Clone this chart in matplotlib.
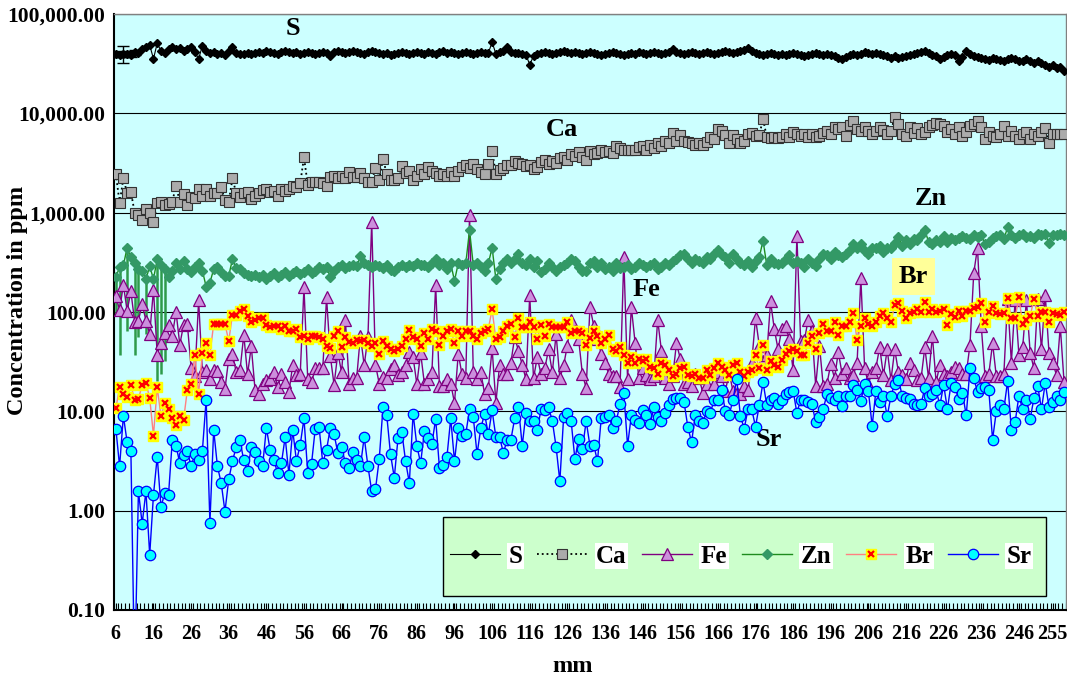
import matplotlib.pyplot as plt
import numpy as np
from matplotlib.ticker import FuncFormatter, FixedLocator
from matplotlib.patches import Rectangle

plt.rcParams['font.family'] = 'Liberation Serif'
plt.rcParams['font.weight'] = 'bold'

# concentrations (ppm) along the core, one value per mm step
S = [39800, 38700, 39800, 39800, 38700, 41300, 40600, 44400, 46500, 48600,
     35400, 50800, 42400, 40600, 44400, 46500, 44400, 45200, 42400, 44400,
     46500, 41300, 35400, 47700, 42400, 40600, 41300, 39800, 40600, 38700,
     42400, 46500, 40600, 39800, 39800, 40600, 39800, 40600, 41300, 40600,
     42400, 41300, 40600, 39800, 41300, 42400, 41300, 40600, 41300, 39800,
     40600, 41300, 40600, 39800, 40600, 41300, 40600, 37700, 41300, 42400,
     41300, 40600, 41300, 42400, 41300, 40600, 39800, 41300, 42400, 41300,
     40600, 39800, 40600, 38700, 39800, 40600, 41300, 40600, 39800, 40600,
     41300, 40600, 39800, 41300, 40600, 39800, 41300, 42400, 40600, 41300,
     40600, 39800, 40600, 41300, 40600, 39800, 40600, 41300, 40600, 40600,
     52000, 39800, 41300, 42400, 46500, 41300, 40600, 40600, 39800, 38700,
     31000, 37700, 39800, 40600, 41300, 40600, 39800, 40600, 41300, 42400,
     41300, 40600, 41300, 40600, 39800, 40600, 41300, 40600, 39800, 38700,
     39800, 40600, 41300, 40600, 39800, 38700, 39800, 40600, 39800, 41300,
     40600, 39800, 40600, 41300, 40600, 39800, 40600, 41300, 44400, 41300,
     40600, 39800, 40600, 41300, 40600, 39800, 40600, 41300, 40600, 39800,
     40600, 41300, 42400, 41300, 40600, 41300, 42400, 43400, 45200, 42400,
     40600, 39800, 38700, 39800, 40600, 39800, 38700, 39800, 38700, 39800,
     40600, 39800, 38700, 37700, 38700, 39800, 40600, 39800, 38700, 39800,
     38700, 37700, 36400, 35400, 37000, 38700, 39800, 38700, 39800, 41300,
     40600, 39800, 40600, 39800, 38700, 37700, 36400, 37700, 36400, 37000,
     37700, 38700, 39800, 40600, 41300, 42400, 40600, 38700, 37700, 35400,
     37000, 38700, 39800, 38700, 33800, 37000, 42400, 39800, 37700, 37000,
     36400, 35400, 34600, 36400, 35400, 34600, 33800, 35400, 36400, 35400,
     33800, 33800, 35400, 33800, 32300, 33800, 32300, 31000, 29500, 30500,
     28300, 29500, 27000]

Ca = [2466, 1253, 2213, 1570, 1629, 1000, 955, 835, 1096, 1000,
      797, 1253, 1290, 1200, 1230, 1290, 1865, 1290, 1527, 1200,
      1435, 1400, 1718, 1462, 1751, 1462, 1570, 1570, 1800, 1330,
      1290, 2213, 1570, 1435, 1570, 1629, 1372, 1462, 1570, 1688,
      1751, 1600, 1643, 1462, 1751, 1643, 1751, 1848, 1798, 1968,
      3605, 1914, 2060, 2060, 2024, 1968, 1848, 2296, 2360, 2215,
      2360, 2253, 2580, 2296, 2296, 2512, 2215, 2060, 2060, 2825,
      2155, 3475, 2466, 2155, 2155, 2215, 2958, 2512, 2653, 2155,
      2360, 2750, 2466, 2904, 2653, 2512, 2360, 2466, 2360, 2580,
      2360, 2653, 2904, 3007, 2825, 3090, 2750, 2580, 2466, 3090,
      4170, 2466, 2700, 2825, 3007, 3007, 3296, 3178, 3090, 2958,
      3007, 2750, 2904, 3236, 3382, 3090, 3296, 3178, 3538, 3605,
      3382, 3873, 3706, 4055, 3605, 3382, 4170, 3873, 3945, 4236,
      4055, 4170, 3945, 4645, 4436, 4315, 4315, 4315, 4236, 4560,
      4645, 4315, 4855, 4436, 5081, 4645, 5310, 4990, 6370, 5310,
      6083, 5310, 5175, 5081, 4855, 5081, 4855, 5175, 5817, 5560,
      6970, 6664, 6083, 5081, 6083, 5560, 5081, 5310, 6200, 6370,
      5975, 6083, 8730, 5817, 5665, 5817, 5665, 5817, 6200, 5817,
      6547, 6200, 5975, 6200, 5817, 6200, 5817, 5975, 6370, 6664,
      6200, 7295, 6970, 7295, 5975, 7620, 8350, 6970, 6664, 7295,
      6664, 6200, 6664, 7295, 6800, 6200, 6664, 9140, 7830, 6200,
      5975, 7295, 6370, 7160, 6200, 6547, 7295, 7620, 7980, 7830,
      7430, 6547, 6970, 6200, 7295, 5975, 6547, 7430, 7830, 8350,
      7295, 5560, 6547, 5975, 5817, 6200, 7430, 5975, 6664, 5975,
      5560, 6200, 6547, 5560, 6200, 5975, 6547, 7160, 5081, 6200,
      6200, 6200, 6200]

Fe = [144, 105, 188, 103, 161, 80, 82, 120, 82, 60,
      168, 37, 48.5, 62, 74, 58, 100, 47, 74, 76,
      27.5, 22.5, 131, 24.7, 25.8, 21, 25.8, 25.4, 19.7, 16.7,
      34, 37.7, 24.7, 25.8, 59, 23.6, 45, 16.4, 15, 19,
      20.6, 21, 25, 17.5, 23.6, 19.7, 15.7, 29, 23, 23.6,
      177, 21, 19.7, 27, 27.5, 27, 140, 36, 18.5, 38.7,
      24.7, 84, 19, 21.5, 21.5, 58, 29, 56, 813, 29.5,
      19, 22, 21.5, 26.5, 29.5, 23, 25, 29.5, 39.5, 35,
      18.8, 38.7, 19, 21, 24.7, 188, 18, 18, 21, 19,
      12.2, 38, 23.6, 21.5, 950, 24.7, 21, 24.7, 15, 17.2,
      43, 12.2, 29.5, 23.6, 23.6, 31, 56, 40.6, 29.5, 21,
      148, 21.5, 35, 23.6, 27, 42, 24.7, 60, 21.5, 29,
      46, 84, 64, 53, 23.6, 17.2, 112, 73, 53, 38,
      31, 23.6, 22.5, 22.5, 17.5, 354, 21, 112, 48.5, 21.5,
      27, 23, 21, 22.5, 84, 40.6, 21.5, 19, 22.5, 48.5,
      34, 18.8, 19.7, 18, 23.6, 21.5, 15.4, 19, 23.6, 18.8,
      24.7, 22.5, 16, 24.7, 16, 15.4, 15, 18, 16.4, 31,
      87, 46, 32, 37, 128, 67, 42, 68, 72, 53,
      25.8, 582, 51, 52, 84, 64, 18, 46, 18, 19,
      30, 21.5, 39.5, 24, 27.5, 21.5, 23, 31, 219, 27,
      19, 24.7, 27.5, 44, 23, 42, 20.6, 42, 24.7, 23,
      21, 31, 25.8, 20.6, 21.5, 44, 21.5, 58, 19.7, 29.5,
      23.6, 22.5, 24.7, 28, 27, 23.6, 23.6, 47, 247, 444,
      72, 22.5, 23.6, 48.5, 22.5, 22.5, 23.6, 135, 31, 132,
      37, 44, 132, 38.7, 27, 135, 42, 150, 38.7, 31,
      23, 72, 19.7]

Zn = [225, 282, 295, 444, 354, 309, 270, 261, 215, 288,
      215, 339, 295, 270, 225, 261, 309, 270, 324, 270,
      254, 282, 315, 261, 180, 197, 270, 282, 254, 232,
      232, 339, 277, 270, 247, 237, 232, 237, 225, 237,
      215, 232, 247, 225, 237, 254, 232, 247, 261, 240,
      254, 270, 247, 261, 282, 270, 282, 225, 261, 282,
      295, 277, 288, 300, 288, 363, 315, 295, 282, 300,
      288, 277, 295, 265, 261, 282, 295, 282, 300, 288,
      309, 295, 300, 282, 309, 339, 295, 309, 270, 309,
      206, 309, 295, 309, 667, 295, 309, 282, 261, 309,
      444, 215, 270, 309, 344, 315, 339, 387, 315, 295,
      339, 282, 324, 254, 270, 309, 282, 258, 282, 295,
      309, 339, 324, 282, 261, 258, 309, 324, 282, 315,
      270, 282, 261, 309, 277, 282, 295, 270, 282, 309,
      295, 282, 295, 309, 270, 282, 315, 295, 324, 344,
      371, 387, 339, 309, 339, 324, 309, 355, 339, 387,
      423, 377, 355, 309, 387, 339, 309, 295, 324, 282,
      324, 355, 523, 295, 344, 309, 303, 309, 339, 371,
      315, 324, 309, 282, 339, 309, 289, 339, 387, 377,
      339, 405, 377, 355, 387, 423, 485, 444, 485, 412,
      387, 444, 444, 464, 405, 444, 436, 494, 572, 464,
      531, 485, 541, 531, 593, 667, 509, 485, 531, 509,
      583, 509, 556, 531, 556, 583, 556, 541, 593, 566,
      593, 485, 509, 556, 583, 593, 541, 710, 593, 556,
      593, 608, 566, 583, 556, 608, 593, 608, 494, 593,
      593, 608, 593]

Br = [10.7, 17.5, 15, 14, 18.3, 13.1, 13.4, 18.3, 19.3, 13.6,
      5.7, 17.5, 8.9, 12, 10.5, 8.5, 7.3, 9.0, 8.2, 16.4,
      18.8, 37, 15, 38.7, 48.5, 37, 76, 75, 76, 76,
      51, 94, 94, 103, 107, 91, 80, 84, 87, 87,
      74, 70, 72, 72, 67, 72, 64, 64, 67, 56,
      58, 53, 58, 57, 56, 53, 46, 43, 57, 64,
      44, 56, 50, 48.5, 52, 51, 52, 48.5, 46, 48.5,
      38, 51, 46, 42, 40.6, 42, 46, 53, 66, 56,
      53, 46, 62, 53, 68, 65, 47, 58, 65, 67,
      48.5, 65, 57, 64, 64, 57, 53, 61, 65, 68,
      106, 53, 56, 65, 73, 76, 56, 87, 70, 70,
      80, 70, 54, 74, 58, 76, 70, 71, 70, 70,
      80, 61, 65, 65, 61, 47, 55, 64, 58, 48.5,
      53, 59, 42, 40.6, 44, 37, 31, 35, 31, 34,
      32, 34, 28, 27, 23.6, 31, 29.5, 25.8, 22.5, 23.6,
      27, 28, 23, 22.5, 23.6, 21.5, 21.5, 25.8, 23, 27,
      31, 28, 25.8, 23, 29.5, 31, 24.7, 22.5, 24.7, 25.8,
      37, 27, 47, 25.8, 32, 29.5, 28, 33, 38, 40.6,
      42, 40.6, 37, 37, 48.5, 58, 42, 61, 76, 64,
      64, 80, 59, 73, 72, 80, 97, 52, 72, 87,
      76, 73, 80, 91, 97, 87, 80, 117, 123, 103,
      87, 97, 100, 106, 100, 125, 100, 106, 100, 103,
      106, 74, 95, 89, 103, 91, 103, 103, 109, 112,
      123, 80, 100, 115, 97, 95, 97, 137, 87, 87,
      140, 76, 84, 91, 135, 91, 100, 100, 80, 97,
      95, 94, 100]

Sr = [6.7, 2.8, 9.0, 4.9, 4.0, 0.02, 1.57, 0.74, 1.57, 0.36,
      1.44, 3.5, 1.09, 1.5, 1.44, 5.1, 4.5, 3.0, 3.6, 4.0,
      2.8, 3.7, 3.2, 4.0, 13.1, 0.76, 6.5, 2.8, 1.9, 0.98,
      2.06, 3.15, 4.4, 5.1, 3.2, 2.5, 4.4, 3.9, 3.15, 2.8,
      6.8, 4.1, 3.2, 2.4, 3.0, 5.5, 2.3, 6.5, 3.15, 4.6,
      8.5, 2.4, 2.95, 6.7, 7.0, 3.0, 4.1, 6.8, 5.9, 3.8,
      4.4, 3.0, 2.7, 3.9, 3.2, 2.8, 5.5, 2.8, 1.57, 1.64,
      3.3, 11.0, 9.1, 3.7, 2.15, 5.4, 6.2, 3.15, 1.9, 9.5,
      4.5, 3.0, 6.3, 5.4, 4.7, 8.4, 2.7, 2.9, 3.5, 8.5,
      3.15, 6.8, 5.7, 5.9, 10.5, 8.7, 3.7, 6.8, 9.4, 5.9,
      10.2, 5.5, 5.5, 3.8, 5.2, 5.2, 8.5, 11.1, 4.5, 9.6,
      8.0, 8.0, 6.5, 10.5, 10.2, 11.0, 8.0, 4.4, 1.97, 8.7,
      9.6, 8.0, 3.3, 5.3, 4.2, 8.0, 4.5, 4.6, 3.15, 8.5,
      8.7, 9.1, 6.8, 8.0, 11.8, 15.4, 4.5, 9.1, 8.2, 7.6,
      10.2, 9.1, 7.5, 11.0, 8.7, 8.0, 9.6, 11.5, 13.3, 13.6,
      13.6, 12.5, 7.0, 4.9, 9.1, 8.0, 7.6, 10.0, 9.6, 13.1,
      12.9, 16.4, 10.0, 9.1, 13.1, 21, 8.9, 6.7, 10.5, 10.5,
      7.0, 11.5, 19.7, 11.5, 13.1, 13.6, 11.8, 13.1, 15.0, 15.7,
      16.2, 9.6, 13.1, 13.1, 12.5, 11.8, 7.8, 8.7, 10.5, 15.0,
      13.6, 13.1, 14.3, 11.2, 14.3, 14.3, 18.5, 16.4, 12.8, 18.9,
      16.0, 7.1, 16.2, 12.3, 14.3, 8.9, 14.3, 18.9, 20.8, 14.3,
      13.6, 13.3, 11.8, 11.5, 11.8, 17.3, 14.3, 15.0, 16.4, 11.5,
      18.5, 10.5, 19.3, 17.6, 13.4, 15.3, 9.1, 27, 21.5, 15.7,
      17.0, 17.6, 16.4, 5.2, 10.0, 11.5, 10.5, 20.2, 6.5, 7.8,
      14.3, 10.5, 13.1, 8.4, 13.6, 18.0, 10.5, 19.3, 11.0, 12.5,
      14.3, 13.1, 15.7]

# category labels (one per 10 steps; the last one sits a step early)
tick_pos = [0, 10, 20, 30, 40, 50, 60, 70, 80, 90, 100, 110, 120,
            130, 140, 150, 160, 170, 180, 190, 200, 210, 220, 230, 240, 249]
tick_lab = ['6', '16', '26', '36', '46', '56', '66', '76', '86', '96', '106',
            '116', '126', '136', '146', '156', '166', '176', '186', '196',
            '206', '216', '226', '236', '246', '255']

# error bars on the first few S and Zn readings
s_err_idx = [0, 1, 2, 3, 4, 5]
s_err = [2500, 2000, 8000, 2500, 2000, 2500]
zn_err_idx = [0, 1, 3, 5, 6, 8, 11, 12, 13]
zn_err_low = [93, 37, 65, 37, 56, 60, 20, 24, 32]

n = len(S)
x = np.arange(n)

fig = plt.figure(figsize=(10.67, 6.84), dpi=100)
ax = fig.add_axes([0.1068, 0.1082, 0.8922, 0.8713])
ax.set_facecolor('#CCFFFF')
ax.set_yscale('log')

ax.errorbar(s_err_idx, [S[i] for i in s_err_idx], yerr=s_err, fmt='none',
            ecolor='black', elinewidth=1, capsize=4, zorder=2)
zn_low = [Zn[i] - lo for i, lo in zip(zn_err_idx, zn_err_low)]
ax.errorbar(zn_err_idx, [Zn[i] for i in zn_err_idx],
            yerr=[zn_low, [0] * len(zn_low)], fmt='none',
            ecolor='#2E9A4A', elinewidth=1.8, capsize=0, zorder=2)

l_s, = ax.plot(x, S, color='black', lw=0.8, marker='D', ms=4,
               mfc='black', mec='black', zorder=3)
l_ca, = ax.plot(x, Ca, color='black', lw=1.3, ls=':', marker='s', ms=6.5,
                mfc='#ABABAB', mec='#333333', mew=0.8, zorder=3)
l_fe, = ax.plot(x, Fe, color='#800080', lw=1, marker='^', ms=8,
                mfc='#CC8FDD', mec='#800080', mew=0.9, zorder=4)
l_zn, = ax.plot(x, Zn, color='#1E8C1E', lw=1, marker='D', ms=5.5,
                mfc='#339966', mec='#339966', zorder=5)
l_br, = ax.plot(x, Br, color='#FF8080', lw=1, marker='s', ms=6.5,
                mfc='#FFFF00', mec='#FFFF00', zorder=6)
l_brx, = ax.plot(x, Br, ls='none', marker='x', ms=4.5, mec='#FF0000',
                 mew=1.6, zorder=6)
l_sr, = ax.plot(x, Sr, color='#0000FF', lw=1, marker='o', ms=7.5,
                mfc='#00FFFF', mec='#0000FF', mew=0.9, zorder=7)

ax.set_xlim(-0.5, n - 0.5)
ax.set_ylim(0.1, 100000)
ax.yaxis.set_major_locator(FixedLocator([0.1, 1, 10, 100, 1000, 10000, 100000]))
ax.yaxis.set_minor_locator(FixedLocator([]))
ax.yaxis.set_major_formatter(FuncFormatter(lambda v, p: f'{v:,.2f}'))
ax.grid(axis='y', which='major', color='black', lw=0.8)
ax.set_axisbelow(True)

ax.set_xticks(tick_pos)
ax.set_xticklabels(tick_lab)
ax.set_xticks(np.arange(-0.5, n, 1), minor=True)
ax.tick_params(axis='x', which='both', direction='in', length=5, width=0.8,
               pad=10, labelsize=14.5)
ax.tick_params(axis='y', which='both', length=0, pad=6, labelsize=15.5)

for side in ['left', 'bottom']:
    ax.spines[side].set_color('black')
    ax.spines[side].set_linewidth(1.5)
for side in ['top', 'right']:
    ax.spines[side].set_color('#808080')
    ax.spines[side].set_linewidth(1)

fig.text(18 / 1067, 1 - 300 / 684, 'Concentration in ppm', rotation=90,
         ha='center', va='center', fontsize=17.5, fontweight='bold')
fig.text(573 / 1067, 1 - 666 / 684, 'mm', ha='center', va='center',
         fontsize=17.5, fontweight='bold')

# element names next to their curves
lab_kw = dict(fontsize=19, fontweight='bold', ha='center', va='center')
ax.text(47, 72000, 'S', **lab_kw)
ax.text(118.5, 6800, 'Ca', **lab_kw)
ax.text(216.5, 1400, 'Zn', **lab_kw)
ax.text(141, 170, 'Fe', **lab_kw)
ax.text(212, 228, 'Br', bbox=dict(facecolor='#FFFF99', edgecolor='none',
                                   boxstyle='square,pad=0.25'), **lab_kw)
ax.text(173.5, 5.2, 'Sr', **lab_kw)

# legend panel
box = (0.3456, 0.0235, 0.6334, 0.1326)
ax.add_patch(Rectangle(box[:2], box[2], box[3], transform=ax.transAxes,
                       facecolor='#CCFFCC', edgecolor='black', lw=1,
                       zorder=8))
leg = ax.legend([l_s, l_ca, l_fe, l_zn, (l_br, l_brx), l_sr],
                ['S', 'Ca', 'Fe', 'Zn', 'Br', 'Sr'],
                ncol=6, loc='center',
                bbox_to_anchor=(box[0] + box[2] / 2 - 0.004, box[1] + box[3] / 2),
                prop=dict(family='Liberation Serif', weight='bold', size=18),
                handlelength=2.0, handletextpad=0.35, columnspacing=0.6,
                frameon=False)
leg.set_zorder(9)
for t in leg.get_texts():
    t.set_bbox(dict(facecolor='white', edgecolor='none', pad=1))

fig.savefig('out.png', dpi=100)
